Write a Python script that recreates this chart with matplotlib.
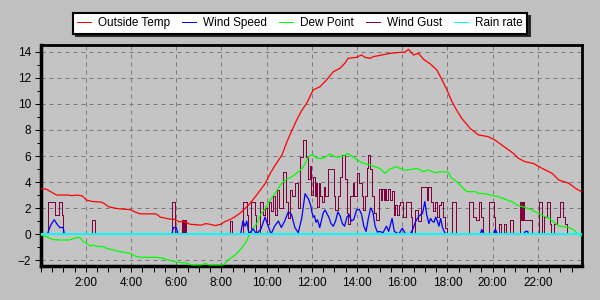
import numpy as np
import matplotlib
matplotlib.use("Agg")
import matplotlib.pyplot as plt
from matplotlib.ticker import MultipleLocator, FuncFormatter

plt.rcParams['font.family'] = ['Liberation Sans', 'DejaVu Sans']

# hours since midnight / values
temp_t = [0.0, 0.25, 0.45, 0.7, 1.2, 1.4, 1.6, 1.85, 1.95, 2.05, 2.3, 2.7, 2.85, 3.0, 3.4,
          3.95, 4.15, 4.4, 5.1, 5.3, 5.7, 5.95, 6.1, 6.4, 6.6, 6.85, 7.1, 7.3, 7.5, 7.72,
          7.95, 8.15, 8.4, 8.6, 8.82, 9.05, 9.27, 9.5, 9.72, 9.94, 10.16, 10.38, 10.68,
          10.9, 11.1, 11.33, 11.55, 11.77, 12.06, 12.36, 12.65, 12.95, 13.24, 13.46, 13.6,
          13.97, 14.2, 14.35, 14.57, 14.72, 15.1, 15.47, 15.91, 16.13, 16.28, 16.5, 16.72,
          16.94, 17.24, 17.53, 17.76, 17.98, 18.2, 18.4, 18.63, 19.0, 19.37, 19.8, 20.1,
          20.4, 20.92, 21.14, 21.43, 21.8, 22.19, 22.63, 22.93, 23.37, 23.67, 23.92]
temp_v = [3.5, 3.45, 3.25, 3.0, 3.0, 2.95, 3.0, 2.93, 2.75, 2.6, 2.5, 2.45, 2.3, 2.1, 1.95,
          1.88, 1.72, 1.55, 1.55, 1.3, 1.15, 1.13, 0.95, 0.95, 0.75, 0.72, 0.68, 0.8, 0.75, 0.65,
          0.74, 0.95, 1.13, 1.33, 1.6, 1.97, 2.36, 2.87, 3.38, 3.9, 4.67, 5.3, 6.08,
          7.1, 7.9, 8.77, 9.5, 10.05, 11.08, 11.33, 11.85, 12.48, 12.74, 13.13, 13.51,
          13.59, 13.77, 13.59, 13.51, 13.64, 13.77, 13.9, 13.97, 14.0, 14.2, 13.77, 13.9,
          13.44, 13.08, 12.62, 11.85, 11.08, 10.18, 9.55, 8.9, 8.13, 7.62, 7.49, 7.23,
          6.85, 6.2, 5.82, 5.56, 5.43, 5.05, 4.67, 4.15, 3.9, 3.51, 3.26]

dew_t = [0.0, 0.27, 0.5, 0.8, 1.23, 1.38, 1.6, 1.75, 1.89, 2.04, 2.19, 2.33, 2.55, 2.77, 2.92,
         3.22, 3.51, 3.73, 3.96, 4.18, 4.4, 5.14, 5.43, 5.65, 5.95, 6.17, 6.39, 6.69, 7.1,
         7.28, 7.45, 8.0, 8.1, 8.3, 8.6, 8.82, 9.05, 9.2, 9.35, 9.57, 9.72, 9.94, 10.16,
         10.38, 10.6, 10.82, 11.12, 11.41, 11.63, 11.86, 12.0, 12.07, 12.22, 12.51, 12.8,
         13.1, 13.4, 13.6, 13.9, 14.2, 14.43, 14.7, 15.0, 15.24, 15.46, 15.75, 16.05, 16.34,
         16.64, 16.94, 17.16, 17.45, 17.75, 18.04, 18.19, 18.41, 18.7, 18.86, 19.23, 19.37,
         19.67, 19.89, 20.26, 20.56, 20.85, 21.07, 21.43, 21.73, 22.03, 22.32, 22.62, 22.91,
         23.37, 23.59, 23.74, 23.92]
dew_v = [-0.08, -0.2, -0.41, -0.46, -0.46, -0.4, -0.26, -0.28, -0.59, -0.72, -0.92, -0.85, -0.97,
         -0.97, -1.1, -1.23, -1.36, -1.42, -1.49, -1.69, -1.79, -1.79, -1.87, -2.0, -2.13, -2.2,
         -2.2, -2.38, -2.38, -2.26, -2.38, -2.38, -2.36, -2.0, -1.62, -1.23, -0.72, -0.2, 0.31,
         0.82, 1.46, 1.97, 2.62, 3.13, 3.77, 4.15, 4.41, 4.79, 5.18, 5.95, 6.1, 6.08, 5.82,
         5.82, 6.15, 5.9, 6.0, 6.2, 5.82, 5.49, 5.38, 5.23, 5.05, 4.67, 5.0, 5.18, 4.92, 4.95,
         5.05, 4.79, 4.92, 4.72, 4.79, 4.75, 4.28, 4.03, 3.51, 3.26, 3.26, 3.13, 3.1, 3.0,
         2.87, 2.67, 2.49, 2.23, 2.05, 1.85, 1.59, 1.33, 1.08, 0.62, 0.51, 0.31, 0.05, -0.15]

speed_t = [0.0, 0.3, 0.45, 0.6, 0.75, 0.85, 1.0, 1.05, 5.8, 5.88, 6.0, 6.08, 8.85, 8.95, 9.05,
           9.12, 9.22, 9.4, 9.55, 9.75, 9.93, 10.05, 10.2, 10.35, 10.52, 10.65, 10.8, 10.96,
           11.1, 11.25, 11.4, 11.55, 11.7, 11.85, 11.95, 12.0, 12.07, 12.12, 12.18, 12.25,
           12.3, 12.35, 12.43, 12.5, 12.58, 12.66, 12.75, 12.85, 12.95, 13.05, 13.15, 13.25,
           13.35, 13.45, 13.55, 13.65, 13.75, 13.85, 13.98, 14.1, 14.2, 14.3, 14.4, 14.5,
           14.6, 14.7, 14.8, 14.9, 15.0, 15.15, 15.3, 15.4, 15.55, 15.65, 15.85, 16.0, 16.15,
           16.35, 16.45, 16.6, 16.75, 16.9, 17.0, 17.08, 17.18, 17.25, 17.32, 17.4, 17.48,
           17.55, 17.62, 17.7, 17.78, 17.88, 17.95, 19.45, 19.52, 19.6, 20.05, 20.12, 20.2,
           21.38, 21.45, 21.55, 21.58, 23.94]
speed_v = [0, 0, 0.7, 1.1, 0.7, 0.5, 0.5, 0, 0, 0.5, 0.5, 0, 0, 1.0, 0.6,
           1.0, 0, 0.4, 0, 0.4, 1.3, 0.7, 0, 0.6, 1.0, 0.5, 1.0, 1.7,
           1.5, 0.5, 0.1, 1.2, 3.1, 2.7, 2.2, 1.7, 1.3, 1.4, 0.9, 1.1,
           0.8, 0.5, 1.1, 1.6, 1.85, 1.6, 1.3, 0.8, 0.6, 1.0, 1.7, 1.4,
           0.8, 0.6, 1.3, 1.5, 1.0, 1.1, 1.85, 1.9, 1.5, 0.6, 0.2, 1.2,
           2.0, 1.7, 0.6, 0.15, 0.2, 0.1, 0.6, 0.2, 1.2, 0.2, 0, 0.45, 0,
           0, 0.3, 1.0, 1.4, 1.6, 2.5, 1.5, 0.8, 1.2, 1.0, 0.9, 1.3,
           1.0, 0.6, 1.2, 0.5, 0.1, 0, 0, 0.35, 0, 0, 0.4, 0,
           0, 0.2, 0.2, 0, 0]

# gust is logged as steps: value holds until the next time
gust_t = [0.0, 0.34, 0.62, 0.8, 0.95, 1.0, 2.28, 2.4, 5.83, 5.93, 6.27, 6.3, 6.33, 6.36, 6.39,
          6.42, 6.46, 8.38, 8.46, 8.95, 9.12, 9.17, 9.3, 9.5, 9.55, 9.72, 9.85, 9.93, 10.0,
          10.1, 10.2, 10.28, 10.38, 10.45, 10.55, 10.72, 10.86, 10.95, 11.02, 11.12, 11.25,
          11.38, 11.48, 11.6, 11.76, 11.84, 11.92, 11.98, 12.05, 12.12, 12.18, 12.25, 12.3,
          12.38, 12.45, 12.52, 12.6, 12.73, 12.96, 13.02, 13.15, 13.25, 13.35, 13.45, 13.55,
          13.62, 13.7, 13.8, 13.88, 13.98, 14.08, 14.2, 14.28, 14.35, 14.42, 14.5, 14.58,
          14.65, 14.75, 14.85, 14.98, 15.04, 15.11, 15.18, 15.25, 15.3, 15.38, 15.48, 15.55,
          15.62, 15.7, 15.78, 15.85, 15.92, 16.05, 16.15, 16.4, 16.45, 16.55, 16.7, 16.85,
          17.08, 17.15, 17.28, 17.38, 17.45, 17.55, 17.62, 17.7, 17.8, 17.88, 17.97, 18.22,
          18.38, 18.95, 19.14, 19.25, 19.38, 19.5, 19.58, 19.85, 20.04, 20.12, 20.28, 20.38,
          20.5, 20.6, 20.78, 20.92, 21.2, 21.22, 21.25, 21.28, 21.31, 21.34, 21.37, 21.4,
          21.45, 21.73, 22.05, 22.18, 22.28, 22.4, 22.52, 22.6, 22.7, 22.85, 22.97, 23.1,
          23.2, 23.28, 23.94]
gust_v = [0, 2.5, 1.5, 2.5, 1.5, 0, 1.1, 0, 2.5, 0, 1.1, 0, 1.1, 0, 1.1,
          0, 0, 1.0, 0, 2.5, 1.5, 0, 2.5, 1.5, 0, 2.5, 1.5, 2.0, 0.8,
          2.5, 1.8, 2.9, 1.5, 3.4, 2.0, 4.8, 2.5, 1.2, 3.4, 2.9, 3.9,
          2.0, 5.9, 7.2, 5.9, 4.2, 5.2, 3.0, 4.4, 2.9, 3.9, 2.1, 3.9,
          2.9, 2.5, 3.6, 2.9, 5.0, 2.9, 1.85, 2.9, 4.4, 6.1, 4.2, 1.6,
          0.8, 2.9, 3.9, 2.9, 4.7, 3.9, 2.9, 1.85, 2.9, 5.05, 6.1, 5.0,
          2.9, 1.6, 1.1, 3.5, 2.6, 3.5, 2.6, 3.5, 2.6, 3.5, 2.6, 3.3,
          1.45, 2.2, 1.45, 2.2, 2.5, 1.3, 2.5, 1.3, 0, 1.85, 1.0, 3.6,
          2.6, 3.6, 2.5, 1.8, 2.5, 1.3, 2.2, 2.5, 1.3, 0.5, 0, 2.5,
          0, 2.5, 1.3, 1.1, 2.5, 1.3, 0, 2.5, 1.3, 0, 0.8, 0,
          0.8, 0, 1.1, 0, 2.5, 1.1, 2.5, 1.1, 2.5, 1.1, 2.5, 1.1,
          1.1, 0, 2.5, 0, 1.3, 2.5, 0.8, 0, 0.8, 1.3, 2.5, 1.3,
          0.8, 0, 0]

rain_t = [0.0, 23.94]
rain_v = [0, 0]

hour_labels = {h: '%d:00' % h for h in range(2, 24, 2)}

fig = plt.figure(figsize=(6, 3), dpi=100, facecolor='#c0c0c0')
ax = fig.add_axes([0.0677, 0.1133, 0.9018, 0.7377])
ax.set_facecolor('#c4c4c4')

px = 0.72  # one pixel at 100 dpi
ax.plot(rain_t, rain_v, color='#00ffff', lw=2 * px, label='Rain rate', zorder=6, antialiased=False)
ax.plot(temp_t, temp_v, color='#ff0000', lw=0.9, label='Outside Temp', zorder=4)
ax.plot(dew_t, dew_v, color='#00ff00', lw=0.9, label='Dew Point', zorder=4)
ax.plot(gust_t, gust_v, color='#800040', lw=px, drawstyle='steps-post', label='Wind Gust',
        zorder=3, antialiased=False)
ax.plot(speed_t, speed_v, color='#0000ff', lw=0.9, label='Wind Speed', zorder=5)

ax.set_xlim(0, 23.94)
ax.set_ylim(-2.46, 14.56)

ax.xaxis.set_major_locator(MultipleLocator(2))
ax.xaxis.set_minor_locator(MultipleLocator(0.5))
ax.xaxis.set_major_formatter(FuncFormatter(lambda x, p: hour_labels.get(int(round(x)), '')))
ax.yaxis.set_major_locator(MultipleLocator(2))
ax.yaxis.set_minor_locator(MultipleLocator(1))

ax.grid(True, which='major', color='#7a7a7a', linestyle=(0, (4, 4)), linewidth=px)
ax.tick_params(axis='both', which='both', direction='out', colors='black', labelsize=8.5)
ax.tick_params(axis='x', which='both', length=4, width=px, pad=4)
ax.tick_params(axis='y', which='major', length=4, width=px, pad=3)
ax.tick_params(axis='y', which='minor', length=3, width=px)

for side in ['left', 'bottom']:
    ax.spines[side].set_linewidth(2.5)
for side in ['top', 'right']:
    ax.spines[side].set_linewidth(2.0)

# legend in the original order
handles, labels = ax.get_legend_handles_labels()
order = ['Outside Temp', 'Wind Speed', 'Dew Point', 'Wind Gust', 'Rain rate']
hmap = dict(zip(labels, handles))
leg = fig.legend([hmap[k] for k in order], order, loc='center', bbox_to_anchor=(0.5, 0.922),
                 ncol=5, fontsize=8.5, frameon=True, fancybox=False, framealpha=1,
                 handlelength=1.2, handletextpad=0.6, columnspacing=1.0, borderpad=0.35,
                 shadow={'color': '#202020', 'alpha': 0.9})
leg.get_frame().set_edgecolor('black')
leg.get_frame().set_linewidth(1.5)
leg.get_frame().set_facecolor('white')
for line in leg.get_lines():
    line.set_linewidth(px)
    line.set_antialiased(False)

fig.savefig('out.png', dpi=100, facecolor=fig.get_facecolor())
